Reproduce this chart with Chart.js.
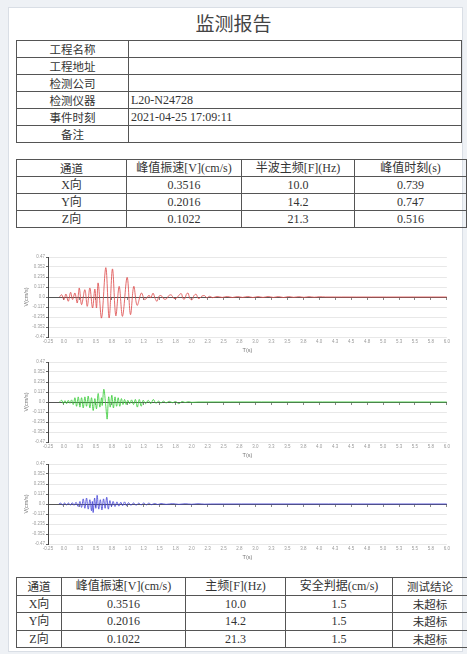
<!DOCTYPE html>
<html><head><meta charset="utf-8">
<script src="https://cdn.jsdelivr.net/npm/chart.js@4.4.1/dist/chart.umd.min.js"></script>
<style>
html,body{margin:0;padding:0;}
body{width:467px;height:654px;background:#eef1f5;position:relative;overflow:hidden;font-family:"Liberation Serif","Noto Sans CJK SC",serif;}
#paper{position:absolute;left:8px;top:7px;width:455px;height:645px;background:#fff;border:1px solid #d9dee5;box-sizing:border-box;}
#title{position:absolute;left:0;top:12px;width:467px;text-align:center;font-family:"Noto Sans CJK SC",sans-serif;font-size:19px;color:#444;line-height:22px;}
table{position:absolute;border-collapse:collapse;table-layout:fixed;font-size:12px;color:#333;border:1.5px solid #555;}
td{border:1px solid #555;padding:0;text-align:center;white-space:nowrap;overflow:hidden;line-height:14px;}
td.cj{font-family:"Noto Sans CJK SC",sans-serif;font-size:11.5px;}
td.val{text-align:left;padding-left:2px;}
canvas{position:absolute;}
</style></head>
<body>
<div id="paper"></div>
<div id="title">监测报告</div>
<table id="t1" style="left:16px;top:40px;width:446px;"></table>
<table id="t2" style="left:16px;top:159px;width:446px;"></table>
<table id="t3" style="left:16px;top:577px;width:446px;"></table>
<canvas id="c1" width="443" height="104" style="left:9px;top:250px;"></canvas>
<canvas id="c2" width="443" height="104" style="left:9px;top:355px;"></canvas>
<canvas id="c3" width="443" height="104" style="left:9px;top:457px;"></canvas>
<script>
// ---------- table data ----------
const infoLabels = ['工程名称','工程地址','检测公司','检测仪器','事件时刻','备注'];
const infoValues = ['','','','L20-N24728','2021-04-25 17:09:11',''];
const peakHeaders = ['通道','峰值振速[V](cm/s)','半波主频[F](Hz)','峰值时刻(s)'];
const channels = ['X向','Y向','Z向'];
const peakVel = ['0.3516','0.2016','0.1022'];
const halfWaveFreq = ['10.0','14.2','21.3'];
const peakTime = ['0.739','0.747','0.516'];
const resultHeaders = ['通道','峰值振速[V](cm/s)','主频[F](Hz)','安全判据(cm/s)','测试结论'];
const mainFreq = ['10.0','14.2','21.3'];
const safetyLimit = ['1.5','1.5','1.5'];
const conclusion = ['未超标','未超标','未超标'];

// ---------- axis ticks ----------
const xTickLabels = ['-0.25','0.0','0.3','0.5','0.8','1.0','1.3','1.5','1.8','2.0','2.3','2.5','2.8','3.0','3.3','3.5','3.8','4.0','4.3','4.5','4.8','5.0','5.3','5.5','5.8','6.0'];
const yTickValues = [-0.47,-0.3525,-0.235,-0.1175,0,0.1175,0.235,0.3525,0.47];
const yTickLabels = ['-0.47','-0.352','-0.235','-0.117','0.0','0.117','0.235','0.352','0.47'];

// ---------- waveform data (time s, velocity cm/s) ----------
const xT = [-0.07,-0.036,0.0,0.031,0.068,0.104,0.135,0.172,0.208,0.24,0.276,0.328,0.365,0.406,0.448,0.484,0.51,0.536,0.589,0.656,0.708,0.76,0.8125,0.865,0.917,0.99,1.042,1.094,1.146,1.214,1.266,1.333,1.36,1.396,1.43,1.458,1.49,1.526,1.56,1.604,1.64,1.682,1.72,1.76,1.8,1.839,1.865,1.891,1.917,1.943,1.975,2.01,2.04,2.073,2.1,2.125,2.16,2.203,2.24,2.28,2.33,2.4,2.48,2.56,2.64,2.72,2.8,2.88,2.96,3.04,3.12,3.2,3.28,3.36,3.44,3.52,3.6,3.68,3.76,3.84,3.92,4.0,4.1,6.0];
const xV = [0,0.027,-0.031,0.035,-0.05,0.055,-0.03,0.047,-0.07,0.106,-0.09,0.086,-0.11,0.106,-0.129,0.094,-0.129,0.165,-0.247,0.345,-0.247,0.33,-0.22,0.125,-0.227,0.231,-0.207,0.125,-0.098,0.047,-0.031,0.02,-0.01,0.045,-0.02,-0.05,0.01,0.016,-0.02,-0.024,0.015,0.024,-0.015,-0.016,0.02,0.039,-0.02,-0.024,0.03,0.047,-0.02,-0.031,0.02,0.031,-0.015,-0.016,0.01,0.016,-0.01,0.008,-0.008,0.006,-0.005,0.006,-0.006,0.005,-0.005,0.006,-0.006,0.005,-0.005,0.006,-0.005,0.005,-0.006,0.005,-0.004,0.004,-0.004,0.004,-0.003,0.003,0,0];

const yT = [-0.07,-0.036,-0.01,0.016,0.042,0.068,0.094,0.12,0.146,0.172,0.198,0.224,0.25,0.276,0.302,0.328,0.354,0.38,0.406,0.432,0.458,0.484,0.51,0.536,0.5625,0.589,0.60,0.625,0.656,0.677,0.70,0.725,0.75,0.775,0.80,0.825,0.85,0.875,0.90,0.925,0.95,0.975,1.0,1.03,1.06,1.09,1.12,1.15,1.18,1.21,1.24,1.28,1.32,1.36,1.40,1.44,1.48,1.52,1.56,1.6,1.65,1.7,1.75,1.8,1.85,1.9,1.95,2.0,2.1,6.0];
const yV = [0,0.02,-0.02,0.015,-0.02,0.02,-0.015,0.025,-0.03,0.05,-0.05,0.06,-0.06,0.05,-0.07,0.06,-0.05,0.07,-0.07,0.05,-0.1,0.04,-0.08,0.1,-0.06,0.05,-0.04,0.15,-0.05,-0.2,0.06,-0.06,0.08,-0.07,0.06,-0.05,0.05,-0.05,0.04,-0.03,0.03,-0.03,0.02,-0.02,0.025,-0.03,0.03,-0.06,0.03,-0.05,0.02,-0.02,0.02,-0.02,0.03,-0.015,0.01,-0.01,0.01,-0.01,0.008,-0.008,0.006,-0.02,0.006,-0.005,0.004,-0.004,0,0];

const zT = [-0.08,-0.05,-0.02,0.01,0.04,0.07,0.10,0.13,0.16,0.19,0.224,0.25,0.276,0.302,0.328,0.354,0.38,0.406,0.432,0.445,0.458,0.48,0.50,0.52,0.545,0.57,0.595,0.62,0.645,0.67,0.695,0.72,0.745,0.77,0.80,0.83,0.86,0.89,0.92,0.95,0.98,1.01,1.05,1.09,1.13,1.17,1.21,1.25,1.29,1.33,1.37,1.42,1.47,1.52,1.6,1.7,1.8,1.9,2.0,2.1,2.2,2.3,6.0];
const zV = [0,0.01,-0.01,0.012,-0.01,0.012,-0.012,0.015,-0.015,0.02,-0.03,0.03,-0.04,0.06,-0.05,0.07,-0.06,0.05,-0.08,0.03,-0.1,0.07,-0.05,0.102,-0.06,0.05,-0.07,0.06,-0.05,0.08,-0.06,0.04,-0.03,0.03,-0.03,0.025,-0.025,0.02,-0.02,0.025,-0.02,0.015,-0.015,0.012,-0.015,0.01,-0.01,0.012,-0.01,0.01,-0.008,0.006,-0.006,0.005,-0.004,0.004,-0.004,0.003,-0.003,0.003,-0.002,0,0];

// ---------- build tables ----------
function cell(txt, cls, w){ const td=document.createElement('td'); td.textContent=txt; if(cls) td.className=cls; if(w) td.style.width=w+'px'; return td; }
function isCJK(s){ return /[\u4e00-\u9fff]/.test(s) && !/[\[\(]/.test(s); }
(function(){
  const t1=document.getElementById('t1');
  infoLabels.forEach((l,i)=>{ const tr=document.createElement('tr'); tr.style.height='17px';
    tr.appendChild(cell(l,'cj',111)); tr.appendChild(cell(infoValues[i],'val')); t1.appendChild(tr); });
  const t2=document.getElementById('t2');
  const w2=[109,114,112,111];
  let tr=document.createElement('tr'); tr.style.height='17px';
  peakHeaders.forEach((h,i)=>tr.appendChild(cell(h,isCJK(h)?'cj':'',w2[i]))); t2.appendChild(tr);
  channels.forEach((c,i)=>{ const r=document.createElement('tr'); r.style.height='17px';
    [c,peakVel[i],halfWaveFreq[i],peakTime[i]].forEach(v=>r.appendChild(cell(v,''))); t2.appendChild(r); });
  const t3=document.getElementById('t3');
  const w3=[44,123,99,106,74];
  tr=document.createElement('tr'); tr.style.height='17.5px';
  resultHeaders.forEach((h,i)=>tr.appendChild(cell(h,isCJK(h)?'cj':'',w3[i]))); t3.appendChild(tr);
  channels.forEach((c,i)=>{ const r=document.createElement('tr'); r.style.height='17.5px';
    [c,peakVel[i],mainFreq[i],safetyLimit[i]].forEach(v=>r.appendChild(cell(v,'')));
    r.appendChild(cell(conclusion[i],'cj')); t3.appendChild(r); });
})();

// ---------- charts ----------
function makeChart(id, T, V, color){
  const data = T.map((t,i)=>({x:t,y:V[i]}));
  new Chart(document.getElementById(id),{
    type:'line',
    data:{datasets:[{data, borderColor:color, borderWidth:1, pointRadius:0, tension:0.35, xAxisID:'x', yAxisID:'y'}]},
    options:{
      responsive:false, animation:false, devicePixelRatio:1,
      layout:{padding:{top:7,right:4,left:0,bottom:0}},
      plugins:{legend:{display:false},tooltip:{enabled:false}},
      scales:{
        x:{type:'linear',position:'bottom',min:-0.25,max:6.0,
          ticks:{stepSize:0.25,autoSkip:false,maxRotation:0,padding:2,color:'#9a9a9a',font:{size:4.5},
            callback:(v,i)=>xTickLabels[i]},
          grid:{display:false,drawTicks:false,tickLength:0},border:{display:false},
          title:{display:true,text:'T(s)',color:'#777',font:{size:5.5},padding:{top:2,bottom:0}},
          afterFit:(s)=>{s.height=17;}},
        x0:{type:'linear',position:{y:0},min:-0.25,max:6.0,
          ticks:{display:false,stepSize:0.25},
          grid:{drawOnChartArea:false,drawTicks:true,tickLength:2,tickColor:'#888'},
          border:{display:true,color:'#555',width:1}},
        y:{type:'linear',min:-0.47,max:0.47,
          afterBuildTicks:(s)=>{s.ticks=yTickValues.map(v=>({value:v}));},
          ticks:{padding:1,color:'#9a9a9a',font:{size:4.5},callback:(v,i)=>yTickLabels[i]},
          grid:{color:'#e8e8e8',lineWidth:1,tickLength:2,tickColor:'#666'},
          border:{display:true,color:'#444',width:1},
          title:{display:true,text:'V(cm/s)',color:'#777',font:{size:5.5},padding:{top:14,bottom:0}},
          afterFit:(s)=>{s.width=39;}}
      }
    }
  });
}
makeChart('c1', xT, xV, 'rgba(222,80,80,0.85)');
makeChart('c2', yT, yV, 'rgba(60,205,60,0.85)');
makeChart('c3', zT, zV, 'rgba(70,70,215,0.85)');
</script>
</body></html>
